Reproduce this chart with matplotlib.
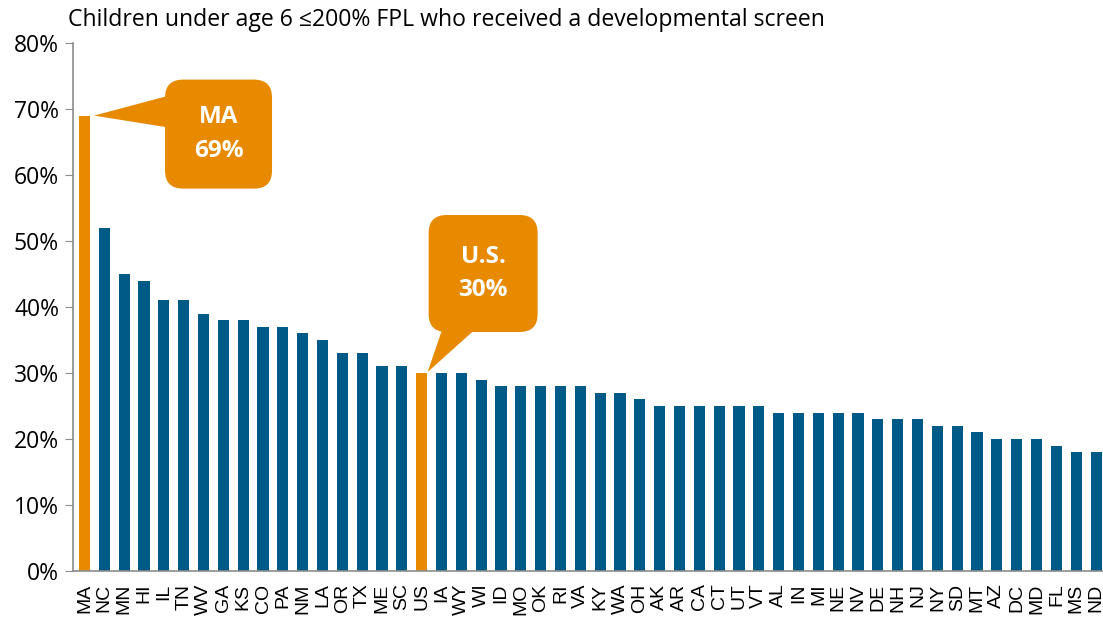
import matplotlib
matplotlib.use("Agg")
import matplotlib.pyplot as plt
import matplotlib.transforms as mtransforms
from matplotlib.patches import FancyBboxPatch, Polygon
from matplotlib.ticker import FuncFormatter

# data
states = ["MA", "NC", "MN", "HI", "IL", "TN", "WV", "GA", "KS", "CO", "PA", "NM", "LA",
          "OR", "TX", "ME", "SC", "US", "IA", "WY", "WI", "ID", "MO", "OK", "RI", "VA",
          "KY", "WA", "OH", "AK", "AR", "CA", "CT", "UT", "VT", "AL", "IN", "MI", "NE",
          "NV", "DE", "NH", "NJ", "NY", "SD", "MT", "AZ", "DC", "MD", "FL", "MS", "ND"]
pct = [69, 52, 45, 44, 41, 41, 39, 38, 38, 37, 37, 36, 35,
       33, 33, 31, 31, 30, 30, 30, 29, 28, 28, 28, 28, 28,
       27, 27, 26, 25, 25, 25, 25, 25, 25, 24, 24, 24, 24,
       24, 23, 23, 23, 22, 22, 21, 20, 20, 20, 19, 18, 18]
highlight = ["MA", "US"]

blue = "#005A87"
orange = "#E88A00"

fig = plt.figure(figsize=(11.03, 6.22), dpi=100)
ax = fig.add_axes([73 / 1103, 51 / 622, 1 - 73 / 1103, (571 - 43) / 622])

x = list(range(len(states)))
colors = [orange if s in highlight else blue for s in states]
ax.bar(x, pct, width=0.56, color=colors, zorder=2)

ax.set_xlim(-0.58, 51.35)
ax.set_ylim(0, 80)
ax.set_yticks(range(0, 81, 10))
ax.yaxis.set_major_formatter(FuncFormatter(lambda v, p: f"{v:.0f}%"))
ax.set_xticks(x)
ax.set_xticklabels(states, rotation=90, fontsize=14, family="Liberation Sans")
ax.tick_params(axis="x", length=0, pad=9)
ax.tick_params(axis="y", length=6, color="#8c8c8c", labelsize=16.5, pad=4)
for lbl in ax.get_yticklabels():
    lbl.set_family("Open Sans")
for side in ["top", "right"]:
    ax.spines[side].set_visible(False)
for side in ["left", "bottom"]:
    ax.spines[side].set_color("#8c8c8c")
    ax.spines[side].set_linewidth(1.2)

fig.text(68 / 1103, 1 - 26 / 622, "Children under age 6 \u2264200% FPL who received a developmental screen",
         fontsize=16.6, family="Open Sans", va="baseline", ha="left")


def callout(tip_x, tip_y, box, tail, lines):
    # box / tail given in pixel offsets from the tip, y pointing down
    trans = mtransforms.Affine2D().scale(1, -1) + \
        mtransforms.ScaledTranslation(tip_x, tip_y, ax.transData)
    x0, y0, x1, y1 = box
    ax.add_patch(FancyBboxPatch((x0, y0), x1 - x0, y1 - y0,
                                boxstyle="round,pad=0,rounding_size=18",
                                fc=orange, ec="none", transform=trans, zorder=5))
    ax.add_patch(Polygon(tail, closed=True, fc=orange, ec="none",
                         transform=trans, zorder=5))
    ax.text((x0 + x1) / 2, (y0 + y1) / 2, lines, transform=trans, ha="center",
            va="center", color="white", fontsize=17.5, fontweight="bold",
            family="Open Sans", linespacing=1.55, zorder=6)


callout(0.48, 69, (71, -36, 178, 73), [(0, 0), (75, -20), (75, 12)], "MA\n69%")
callout(17.3, 30.15, (1, -157, 110, -40), [(0, 0), (15, -44), (49, -44)], "U.S.\n30%")

fig.savefig("out.png", dpi=100)
